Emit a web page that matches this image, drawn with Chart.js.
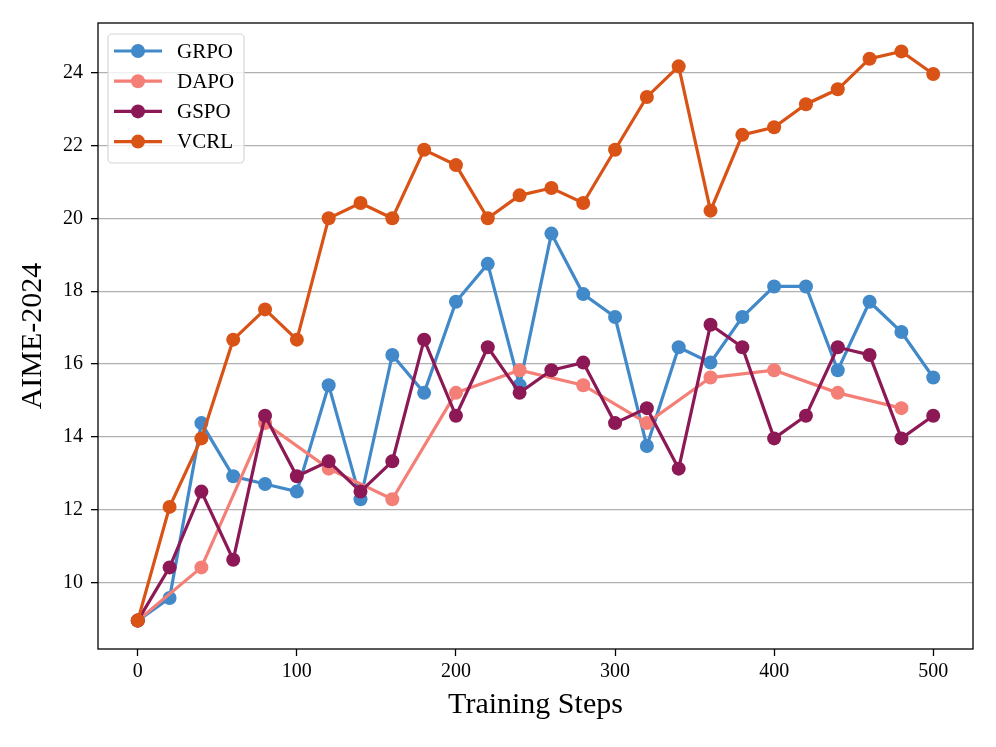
<!DOCTYPE html>
<html>
<head>
<meta charset="utf-8">
<script src="https://cdn.jsdelivr.net/npm/chart.js@4.4.1/dist/chart.umd.min.js"></script>
<style>
  html, body { margin: 0; padding: 0; background: #fff; }
  canvas { display: block; }
</style>
</head>
<body>
<canvas id="aimeChart" width="996" height="747"></canvas>
<script>
// steps where each method was evaluated
const steps = [0, 20, 40, 60, 80, 100, 120, 140, 160, 180, 200, 220, 240, 260, 280, 300, 320, 340, 360, 380, 400, 420, 440, 460, 480, 500];
const dapoSteps = [0, 40, 80, 120, 160, 200, 240, 280, 320, 360, 400, 440, 480];

const grpo = [8.96, 9.58, 14.38, 12.92, 12.71, 12.50, 15.42, 12.29, 16.25, 15.21, 17.71, 18.75, 15.42, 19.58, 17.92, 17.29, 13.75, 16.46, 16.04, 17.29, 18.13, 18.13, 15.83, 17.71, 16.88, 15.63];
const dapo = [8.96, 10.42, 14.38, 13.13, 12.29, 15.21, 15.83, 15.42, 14.38, 15.63, 15.83, 15.21, 14.79];
const gspo = [8.96, 10.42, 12.50, 10.63, 14.58, 12.92, 13.33, 12.50, 13.33, 16.67, 14.58, 16.46, 15.21, 15.83, 16.04, 14.38, 14.79, 13.13, 17.08, 16.46, 13.96, 14.58, 16.46, 16.25, 13.96, 14.58];
const vcrl = [8.96, 12.08, 13.96, 16.67, 17.50, 16.67, 20.00, 20.42, 20.00, 21.88, 21.46, 20.00, 20.63, 20.83, 20.42, 21.88, 23.33, 24.17, 20.21, 22.29, 22.50, 23.13, 23.54, 24.38, 24.58, 23.96];

const xTicks = [0, 100, 200, 300, 400, 500];
const yTicks = [10, 12, 14, 16, 18, 20, 22, 24];

const serif = "'Liberation Serif', 'DejaVu Serif', serif";

function toPoints(xs, ys) {
  return xs.map((x, i) => ({ x: x, y: ys[i] }));
}

function series(label, xs, ys, color, order) {
  return {
    label: label,
    data: toPoints(xs, ys),
    borderColor: color,
    backgroundColor: color,
    pointBackgroundColor: color,
    pointBorderColor: color,
    borderWidth: 3.2,
    pointRadius: 7,
    pointBorderWidth: 0,
    tension: 0,
    order: order,
  };
}

const datasets = [
  series("GRPO", steps, grpo, "#4189c9", 3),
  series("DAPO", dapoSteps, dapo, "#f37f77", 2),
  series("GSPO", steps, gspo, "#8c1955", 1),
  series("VCRL", steps, vcrl, "#d95316", 0),
];

// frame around plot + legend in the upper left, matplotlib style
const framePlugin = {
  id: "frame",
  afterDraw(chart) {
    const ctx = chart.ctx;
    const a = chart.chartArea;
    ctx.save();
    ctx.strokeStyle = "#000";
    ctx.lineWidth = 1.3;
    ctx.strokeRect(a.left, a.top, a.right - a.left, a.bottom - a.top);

    // legend box
    const bx = a.left + 10, by = a.top + 11, bw = 136, bh = 129;
    ctx.beginPath();
    ctx.roundRect(bx, by, bw, bh, 4);
    ctx.fillStyle = "rgba(255,255,255,0.8)";
    ctx.fill();
    ctx.strokeStyle = "#d6d6d6";
    ctx.lineWidth = 1.2;
    ctx.stroke();

    ctx.font = "21px " + serif;
    ctx.textBaseline = "middle";
    chart.data.datasets.forEach((ds, i) => {
      const cy = by + 17 + i * 30.2;
      ctx.strokeStyle = ds.borderColor;
      ctx.lineWidth = 3.2;
      ctx.beginPath();
      ctx.moveTo(bx + 6, cy);
      ctx.lineTo(bx + 54, cy);
      ctx.stroke();
      ctx.fillStyle = ds.borderColor;
      ctx.beginPath();
      ctx.arc(bx + 30, cy, 7, 0, Math.PI * 2);
      ctx.fill();
      ctx.fillStyle = "#000";
      ctx.fillText(ds.label, bx + 69, cy + 1);
    });
    ctx.restore();
  },
};

const ctx = document.getElementById("aimeChart").getContext("2d");
new Chart(ctx, {
  type: "line",
  data: { datasets: datasets },
  options: {
    responsive: false,
    animation: false,
    layout: {
      padding: { top: 23, right: 23, left: 12, bottom: 22 },
    },
    plugins: {
      legend: { display: false },
      tooltip: { enabled: false },
    },
    scales: {
      x: {
        type: "linear",
        min: -25,
        max: 525,
        afterBuildTicks: (scale) => {
          scale.ticks = xTicks.map((v) => ({ value: v }));
        },
        afterFit: (scale) => {
          scale.height = 76;
        },
        grid: {
          color: "rgba(0,0,0,0)",
          tickColor: "#000",
          tickLength: 7,
          tickWidth: 1.3,
          drawTicks: true,
        },
        border: { display: false },
        ticks: {
          color: "#000",
          font: { family: serif, size: 20 },
          padding: 4,
          maxRotation: 0,
        },
        title: {
          display: true,
          text: "Training Steps",
          color: "#000",
          font: { family: serif, size: 30 },
          padding: { top: 0, bottom: 2 },
        },
      },
      y: {
        type: "linear",
        min: 8.18,
        max: 25.36,
        afterBuildTicks: (scale) => {
          scale.ticks = yTicks.map((v) => ({ value: v }));
        },
        afterFit: (scale) => {
          scale.width = 86;
        },
        grid: {
          color: "#b0b0b0",
          lineWidth: 1.3,
          tickColor: "#000",
          tickWidth: 1.3,
          tickLength: 7,
        },
        border: { display: false },
        ticks: {
          color: "#000",
          font: { family: serif, size: 20 },
          padding: 8,
        },
        title: {
          display: true,
          text: "AIME-2024",
          color: "#000",
          font: { family: serif, size: 30 },
          padding: { top: 3, bottom: 0 },
        },
      },
    },
  },
  plugins: [framePlugin],
});
</script>
</body>
</html>
